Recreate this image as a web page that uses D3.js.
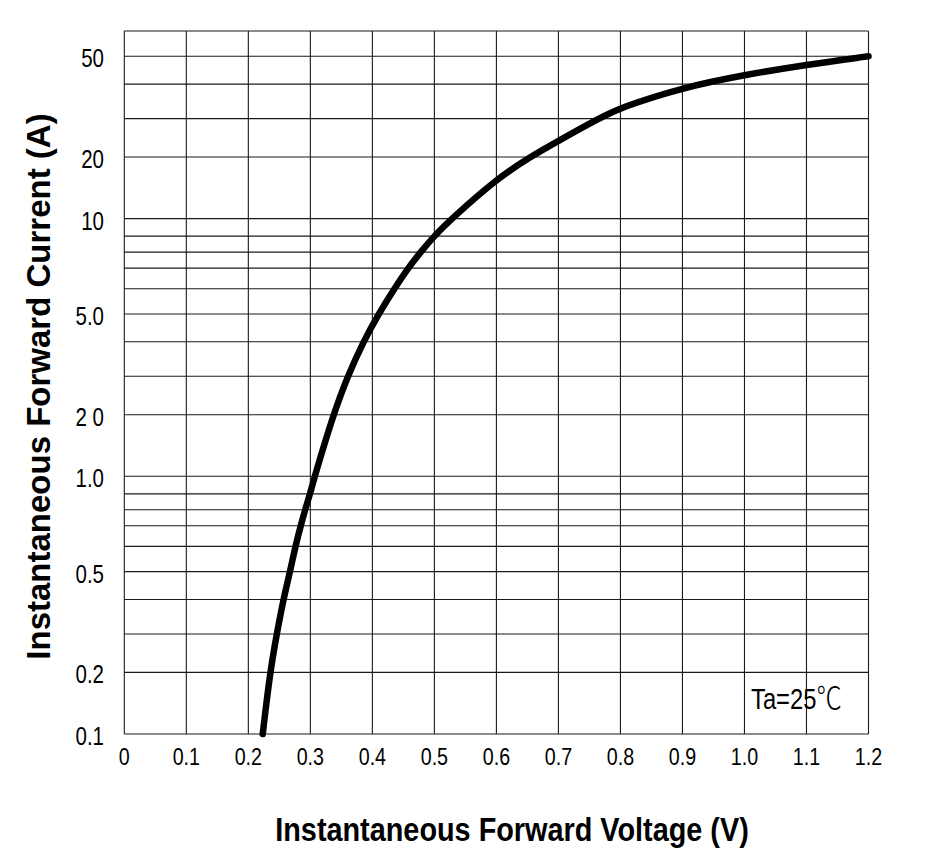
<!DOCTYPE html>
<html>
<head>
<meta charset="utf-8">
<script src="https://cdn.jsdelivr.net/npm/d3@7"></script>
<style>
  html, body { margin: 0; padding: 0; background: #fff; }
  text { font-family: "Liberation Sans", Arial, sans-serif; fill: #000; }
</style>
</head>
<body>
<div id="chart"></div>
<script>
// forward characteristic
var voltage = [0.2232, 0.235, 0.2458, 0.2565, 0.2673, 0.2758, 0.2845, 0.2915, 0.2995, 0.307,
               0.337, 0.360, 0.3855, 0.410, 0.4355, 0.4575, 0.4778, 0.4995, 0.528,
               0.600, 0.654, 0.700, 0.765, 0.800, 0.900, 1.000, 1.100, 1.200];
var current = [0.1, 0.2, 0.3, 0.4, 0.5, 0.6, 0.7, 0.8, 0.9, 1.0,
               2, 3, 4, 5, 6, 7, 8, 9, 10,
               16.4, 20, 24.2, 30, 33.2, 39, 43.3, 47, 50];

var xTicks      = [0, 0.1, 0.2, 0.3, 0.4, 0.5, 0.6, 0.7, 0.8, 0.9, 1.0, 1.1, 1.2];
var xTickLabels = ["0", "0.1", "0.2", "0.3", "0.4", "0.5", "0.6", "0.7", "0.8", "0.9", "1.0", "1.1", "1.2"];
var yTicks      = [50, 20, 10, 5, 2, 1, 0.5, 0.2, 0.1];
var yTickLabels = ["50", "20", "10", "5.0", "2 0", "1.0", "0.5", "0.2", "0.1"];
var gridCurrents = [0.1, 0.2, 0.3, 0.4, 0.5, 0.6, 0.7, 0.8, 0.9,
                    1, 2, 3, 4, 5, 6, 7, 8, 9,
                    10, 20, 30, 40, 50, 60];

var chartWidth = 926, chartHeight = 863;
var plotLeft = 124.3, plotRight = 868.5, plotTop = 31, plotBottom = 734;
var squeeze = 0.82;   // the sheet's lettering is narrowed horizontally

// the sheet's log paper is not a true log: spacing of mantissa 1..10 inside one decade
var decadeSpacing = [0, 0.239, 0.388, 0.522, 0.63, 0.728, 0.808, 0.87, 0.932, 1];

function decadeUnits(v) {
    var d = Math.floor(Math.log10(v) + 1e-9);
    var m = Math.round(v / Math.pow(10, d));
    return d + decadeSpacing[m - 1];
}

var unit = d3.scaleLinear()
    .domain(gridCurrents)
    .range(gridCurrents.map(decadeUnits));

var x = d3.scaleLinear().domain([0, 1.2]).range([plotLeft, plotRight]);
var yUnits = d3.scaleLinear()
    .domain([unit(0.1), unit(60)])
    .range([plotBottom, plotTop]);
var y = function(v) { return yUnits(unit(v)); };

var svg = d3.select("#chart").append("svg")
    .attr("width", chartWidth)
    .attr("height", chartHeight);

svg.append("rect").attr("width", chartWidth).attr("height", chartHeight).attr("fill", "#fff");

var grid = svg.append("g")
    .attr("stroke", "#1a1a1a")
    .attr("stroke-width", 1.1)
    .attr("fill", "none");

grid.selectAll("line.h")
    .data(gridCurrents)
    .enter().append("line")
    .attr("class", "h")
    .attr("x1", plotLeft).attr("x2", plotRight)
    .attr("y1", function(d) { return y(d); })
    .attr("y2", function(d) { return y(d); });

grid.selectAll("line.v")
    .data(xTicks)
    .enter().append("line")
    .attr("class", "v")
    .attr("y1", plotTop).attr("y2", plotBottom)
    .attr("x1", function(d) { return x(d); })
    .attr("x2", function(d) { return x(d); });

// curve
var points = voltage.map(function(v, i) { return [x(v), y(current[i])]; });

svg.append("path")
    .datum(points)
    .attr("fill", "none")
    .attr("stroke", "#000")
    .attr("stroke-width", 6.5)
    .attr("stroke-linecap", "round")
    .attr("stroke-linejoin", "round")
    .attr("d", d3.line().curve(d3.curveBasis));

// tick labels
svg.selectAll("text.xt")
    .data(xTicks)
    .enter().append("text")
    .attr("class", "xt")
    .attr("text-anchor", "middle")
    .attr("font-size", "24px")
    .attr("transform", function(d) { return "translate(" + x(d) + "," + (plotBottom + 31) + ") scale(" + squeeze + ",1)"; })
    .text(function(d, i) { return xTickLabels[i]; });

svg.selectAll("text.yt")
    .data(yTicks)
    .enter().append("text")
    .attr("class", "yt")
    .attr("text-anchor", "end")
    .attr("font-size", "25px")
    .attr("transform", function(d) { return "translate(104," + (y(d) + 11) + ") scale(" + squeeze + ",1)"; })
    .text(function(d, i) { return yTickLabels[i]; });

// note
var note = svg.append("text")
    .attr("font-size", "29px")
    .attr("transform", "translate(751,709) scale(" + squeeze + ",1)");
note.append("tspan").text("Ta=25");
note.append("tspan")
    .style("font-family", "'Noto Sans CJK SC', sans-serif")
    .style("font-weight", "300")
    .style("font-size", "31px")
    .text("\u2103");

// axis titles
svg.append("text")
    .attr("text-anchor", "middle")
    .attr("font-size", "34px")
    .attr("font-weight", "bold")
    .attr("transform", "translate(512,841) scale(0.848,1)")
    .text("Instantaneous Forward Voltage (V)");

svg.append("text")
    .attr("text-anchor", "middle")
    .attr("font-size", "33px")
    .attr("font-weight", "bold")
    .attr("transform", "translate(50,386.5) rotate(-90)")
    .text("Instantaneous Forward Current (A)");
</script>
</body>
</html>
